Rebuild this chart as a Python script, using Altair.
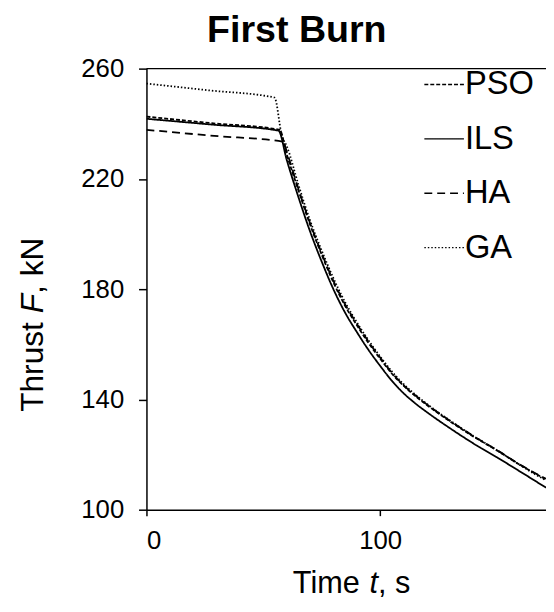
import altair as alt
import pandas as pd

series_names = ["PSO", "ILS", "HA", "GA"]

pso_t = [0, 28, 57, 60, 65, 70, 75, 80, 85, 90, 95, 100, 105, 110, 115, 120, 130, 140, 150, 160, 171]
pso_f = [242.6, 240.2, 237.8, 229, 216, 203.5, 192.5, 182.5, 174, 167, 160.5, 154.8, 149.4, 145, 141.3, 138, 132, 126.5, 121.5, 116.2, 111]

ils_t = [0, 28, 56.5, 60, 65, 70, 75, 80, 85, 90, 95, 100, 105, 110, 115, 120, 130, 140, 150, 160, 171]
ils_f = [241.8, 239.7, 237.5, 227, 213.5, 201, 190, 180, 171.5, 164.5, 158, 152.2, 146.8, 142.3, 138.6, 135.4, 129.5, 124, 119, 113.8, 108]

ha_t = [0, 29, 58.6, 60, 65, 70, 75, 80, 85, 90, 95, 100, 105, 110, 115, 120, 130, 140, 150, 160, 171]
ha_f = [237.8, 235.6, 233.5, 230, 216.5, 204, 193, 183, 174.5, 167.5, 161, 155.2, 149.7, 145.2, 141.5, 138.2, 132.2, 126.7, 121.6, 116.3, 111.2]

ga_t = [0, 27, 54.8, 58, 60, 65, 70, 75, 80, 85, 90, 95, 100, 105, 110, 115, 120, 130, 140, 150, 160, 171]
ga_f = [254.6, 252.1, 249.5, 235.5, 232, 218, 205, 194, 184, 175.3, 168, 161.5, 155.6, 150.2, 145.6, 141.8, 138.4, 132.3, 126.7, 121.6, 116.1, 110.6]

x_ticks = [0, 100]
y_ticks = [100, 140, 180, 220, 260]

rows = []
for name, ts, fs in [("PSO", pso_t, pso_f), ("ILS", ils_t, ils_f), ("HA", ha_t, ha_f), ("GA", ga_t, ga_f)]:
    for i, (t, f) in enumerate(zip(ts, fs)):
        rows.append({"series": name, "t": t, "F": f, "order": i})
df = pd.DataFrame(rows)

FONT = "Liberation Sans"

lines = alt.Chart(df).mark_line(color="black", strokeWidth=1.8, clip=True, interpolate="monotone").encode(
    x=alt.X("t:Q", scale=alt.Scale(domain=[0, 171], nice=False, zero=False),
            axis=alt.Axis(values=x_ticks, title=None, tickSize=6, labelPadding=12,
                          labelFontSize=26)),
    y=alt.Y("F:Q", scale=alt.Scale(domain=[100, 260], nice=False, zero=False),
            axis=alt.Axis(values=y_ticks, title=None, tickSize=8, labelPadding=15,
                          labelFontSize=26)),
    strokeDash=alt.StrokeDash("series:N",
        scale=alt.Scale(domain=series_names, range=[[4, 2], [1, 0], [8, 5], [1.5, 2]]),
        legend=alt.Legend(title=None, orient="none", legendX=280, legendY=-5,
                          symbolType="stroke", symbolSize=1600, symbolStrokeWidth=1.4,
                          symbolStrokeColor="black", labelFontSize=33, labelOffset=0,
                          rowPadding=17, labelFont=FONT, labelColor="black")),
    detail="series:N",
    order="order:Q",
)

top_rule = alt.Chart(pd.DataFrame({"v": [260]})).mark_rule(color="black", strokeWidth=1.5).encode(
    y=alt.Y("v:Q")
)

# axis titles with italic symbols
xt_parts = ["Time ", "t", ", s"]
xt_styles = ["normal", "italic", "normal"]
xt_x = [148, 225.5, 234.1]
yt_parts = ["Thrust ", "F", ", kN"]
yt_styles = ["normal", "italic", "normal"]
yt_y = [347, 247.4, 227.8]

title_layers = []
for txt, sty, px in zip(xt_parts, xt_styles, xt_x):
    title_layers.append(
        alt.Chart(pd.DataFrame({"s": [txt]})).mark_text(
            font=FONT, fontSize=31, fontStyle=sty, align="left", baseline="alphabetic", color="black"
        ).encode(text="s:N", x=alt.value(px), y=alt.value(530))
    )
for txt, sty, py in zip(yt_parts, yt_styles, yt_y):
    title_layers.append(
        alt.Chart(pd.DataFrame({"s": [txt]})).mark_text(
            font=FONT, fontSize=32, fontStyle=sty, align="left", baseline="alphabetic",
            angle=270, color="black"
        ).encode(text="s:N", x=alt.value(-105), y=alt.value(py))
    )

chart = alt.layer(lines, top_rule, *title_layers).properties(
    width=404, height=446,
    background="white",
    title=alt.TitleParams("First Burn", fontSize=38, fontWeight="bold", font=FONT,
                          anchor="middle", dx=-50, offset=6, color="black"),
    autosize=alt.AutoSizeParams(type="none"),
    padding={"left": 140, "top": 58, "right": 0, "bottom": 88},
).configure_view(stroke=None).configure_axis(
    grid=False, domainColor="black", domainWidth=1.5, tickColor="black", tickWidth=1.5,
    labelColor="black", titleColor="black", labelFont=FONT, titleFont=FONT,
)

chart.save("out.html", embed_options={"renderer": "svg", "actions": False})
